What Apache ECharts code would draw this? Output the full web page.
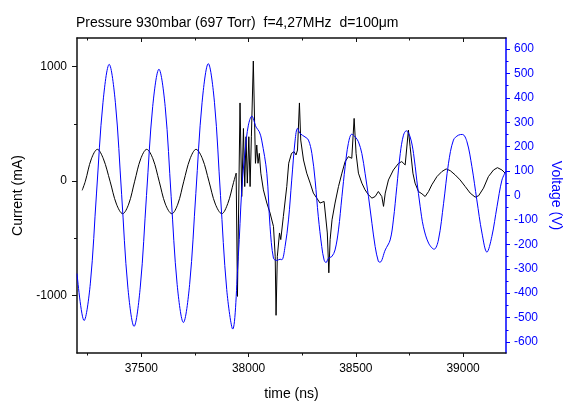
<!DOCTYPE html>
<html>
<head>
<meta charset="utf-8">
<script src="https://cdn.jsdelivr.net/npm/echarts@6/dist/echarts.min.js"></script>
<style>
html,body{margin:0;padding:0;background:#fff;}
#chart{width:564px;height:405px;}
</style>
</head>
<body>
<div id="chart"></div>
<script>
// ---- data ----
const titleText = 'Pressure 930mbar (697 Torr)  f=4,27MHz  d=100\u03bcm';
const xTicks = [37500, 38000, 38500, 39000];
const xMinorTicks = [37250, 37750, 38250, 38750];
const currentTicks = [-1000, 0, 1000];
const currentMinorTicks = [-500, 500];
const voltageTicks = [-600, -500, -400, -300, -200, -100, 0, 100, 200, 300, 400, 500, 600];
const voltageMinorTicks = [-550, -450, -350, -250, -150, -50, 50, 150, 250, 350, 450, 550];

const voltTime = [37200,37233,37262,37291,37321,37350,37379,37408,37437,37466,37495,37524,37553,37582,37611,37639,37667,37696,37725,37754,37783,37812,37841,37869,37898,37926,37952,37968,37984,37999,38015,38035,38050,38061,38085,38100,38116,38131,38147,38155,38170,38186,38201,38217,38228,38240,38263,38279,38295,38310,38325,38341,38352,38361,38372,38388,38403,38419,38435,38450,38465,38481,38497,38512,38528,38543,38559,38575,38590,38605,38613,38637,38660,38675,38691,38707,38722,38735,38753,38769,38784,38800,38815,38839,38865,38885,38909,38932,38955,38978,38997,39018,39041,39064,39088,39111,39134,39158,39181,39200];
const voltage = [-320,-512,-362,10,380,537,380,5,-375,-536,-375,0,365,517,365,-5,-365,-520,-365,8,380,540,380,0,-385,-547,-250,22,186,288,325,280,261,227,91,-128,-257,-266,-261,-263,-209,-100,63,227,275,254,240,227,172,63,-87,-209,-264,-275,-257,-250,-223,-141,-5,118,213,251,240,220,172,91,-5,-114,-209,-270,-273,-223,-182,-100,36,172,247,265,240,172,63,-46,-128,-195,-220,-182,-32,132,227,247,250,220,118,-18,-154,-232,-168,-46,63,100];

const curTime = [37224,37239,37267,37295,37323,37354,37384,37413,37441,37469,37497,37525,37554,37583,37612,37642,37670,37698,37727,37755,37785,37815,37845,37875,37903,37930,37942,37948,37960,37968,37976,37982,37988,37994,38001,38007,38013,38022,38032,38038,38044,38050,38057,38069,38085,38100,38116,38124,38128,38134,38144,38150,38162,38178,38187,38200,38212,38221,38228,38237,38243,38256,38271,38287,38302,38318,38333,38352,38361,38367,38374,38380,38389,38403,38419,38435,38450,38465,38481,38492,38501,38512,38528,38543,38559,38575,38590,38605,38613,38621,38629,38637,38652,38675,38699,38714,38730,38745,38753,38766,38776,38792,38808,38823,38839,38854,38878,38901,38921,38940,38963,38986,39010,39033,39056,39072,39095,39118,39142,39160,39181,39196];
const current = [-80,0,195,278,195,0,-200,-284,-200,0,195,278,195,0,-200,-284,-200,0,195,278,195,0,-200,-284,-195,-10,70,-1006,683,-134,460,-47,388,-17,388,-47,388,1049,156,316,156,243,70,-76,-191,-278,-395,-656,-1171,-656,-452,-510,-308,-47,157,243,257,229,272,683,359,185,70,-17,-104,-148,-191,-177,-191,-452,-800,-510,-337,-191,-47,70,171,214,200,548,243,70,-17,-76,-119,-148,-134,-90,-76,-134,-220,-104,11,98,156,171,142,446,301,70,-17,-90,-110,-134,-90,-32,40,84,107,92,55,11,-47,-104,-139,-128,-61,40,98,118,98,70];
const smoothEndIndex = 26; // current is a smooth sine up to this point

// ---- chart ----
const FONT = 'Liberation Sans, Arial, sans-serif';
const pairs = (xs, ys) => xs.map((x, i) => [x, ys[i]]);
const curPairs = pairs(curTime, current);
const BLUE = '#0000ff';
const AX = '#111';
const plain = v => String(v);

const chart = echarts.init(document.getElementById('chart'), null, {renderer: 'canvas'});
const xBase = {type: 'value', min: 37200, max: 39200, gridIndex: 0, splitLine: {show: false}};
const yCur = {type: 'value', min: -1500, max: 1250, splitLine: {show: false}};
const yVol = {type: 'value', min: -645, max: 645, splitLine: {show: false}};

chart.setOption({
  animation: false,
  backgroundColor: '#fff',
  title: {
    text: titleText, left: 71, top: 11,
    textStyle: {fontFamily: FONT, fontSize: 14, fontWeight: 'normal', color: '#000'}
  },
  grid: {left: 77, right: 58, top: 38, bottom: 52, containLabel: false, outerBoundsMode: 'none'},
  xAxis: [
    Object.assign({}, xBase, {
      position: 'bottom',
      name: 'time (ns)', nameLocation: 'middle', nameGap: 34,
      nameTextStyle: {fontFamily: FONT, fontSize: 14, color: '#000'},
      axisLine: {onZero: false, lineStyle: {color: AX, width: 1.5}},
      axisTick: {show: true, inside: false, length: 4, customValues: xTicks, lineStyle: {color: AX, width: 1}},
      axisLabel: {customValues: xTicks, formatter: plain, margin: 10, fontFamily: FONT, fontSize: 12, color: '#000'}
    }),
    Object.assign({}, xBase, {
      position: 'bottom',
      axisLine: {show: false, onZero: false},
      axisTick: {show: true, inside: false, length: 2.5, customValues: xMinorTicks, lineStyle: {color: AX, width: 1}},
      axisLabel: {show: false}
    }),
    Object.assign({}, xBase, {
      position: 'top',
      axisLine: {onZero: false, lineStyle: {color: AX, width: 1.5}},
      axisTick: {show: true, inside: true, length: 4, customValues: xTicks, lineStyle: {color: AX, width: 1}},
      axisLabel: {show: false}
    }),
    Object.assign({}, xBase, {
      position: 'top',
      axisLine: {show: false, onZero: false},
      axisTick: {show: true, inside: true, length: 2.5, customValues: xMinorTicks, lineStyle: {color: AX, width: 1}},
      axisLabel: {show: false}
    })
  ],
  yAxis: [
    Object.assign({}, yCur, {
      position: 'left',
      name: 'Current (mA)', nameLocation: 'middle', nameGap: 52,
      nameTextStyle: {fontFamily: FONT, fontSize: 14, color: '#000'},
      axisLine: {show: true, onZero: false, lineStyle: {color: AX, width: 1.5}},
      axisTick: {show: true, inside: false, length: 5, customValues: currentTicks, lineStyle: {color: AX, width: 1}},
      axisLabel: {customValues: currentTicks, formatter: plain, margin: 10, fontFamily: FONT, fontSize: 12, color: '#000'}
    }),
    Object.assign({}, yCur, {
      position: 'left',
      axisLine: {show: false, onZero: false},
      axisTick: {show: true, inside: false, length: 3, customValues: currentMinorTicks, lineStyle: {color: AX, width: 1}},
      axisLabel: {show: false}
    }),
    Object.assign({}, yVol, {
      position: 'right',
      name: 'Voltage (V)', nameLocation: 'middle', nameGap: 43, nameRotate: -90,
      nameTextStyle: {fontFamily: FONT, fontSize: 14, color: BLUE},
      axisLine: {show: true, onZero: false, lineStyle: {color: BLUE, width: 1.5}},
      axisTick: {show: true, inside: false, length: 4, customValues: voltageTicks, lineStyle: {color: BLUE, width: 1}},
      axisLabel: {customValues: voltageTicks, formatter: plain, margin: 8, fontFamily: FONT, fontSize: 12, color: BLUE}
    }),
    Object.assign({}, yVol, {
      position: 'right',
      axisLine: {show: false, onZero: false},
      axisTick: {show: true, inside: false, length: 2.5, customValues: voltageMinorTicks, lineStyle: {color: BLUE, width: 1}},
      axisLabel: {show: false}
    })
  ],
  series: [
    {
      name: 'Current (sine part)', type: 'line', xAxisIndex: 0, yAxisIndex: 0,
      data: curPairs.slice(0, smoothEndIndex + 1), smooth: 0.35, showSymbol: false,
      lineStyle: {color: '#000', width: 1}, itemStyle: {color: '#000'}
    },
    {
      name: 'Current', type: 'line', xAxisIndex: 0, yAxisIndex: 0,
      data: curPairs.slice(smoothEndIndex), smooth: false, showSymbol: false,
      lineStyle: {color: '#000', width: 1}, itemStyle: {color: '#000'}
    },
    {
      name: 'Voltage', type: 'line', xAxisIndex: 0, yAxisIndex: 2,
      data: pairs(voltTime, voltage), smooth: 0.35, showSymbol: false,
      lineStyle: {color: BLUE, width: 1}, itemStyle: {color: BLUE}
    }
  ]
});
</script>
</body>
</html>
